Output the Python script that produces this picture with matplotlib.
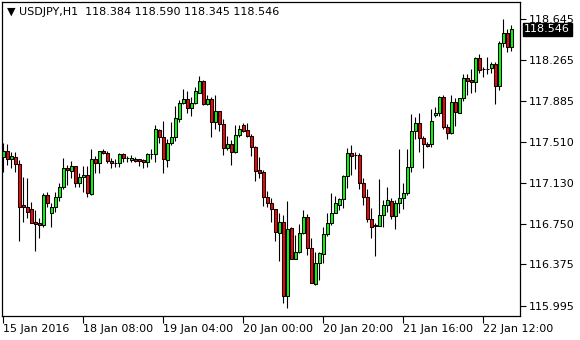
import matplotlib
matplotlib.use("Agg")
import matplotlib.pyplot as plt
import numpy as np

symbol = "USDJPY,H1"
opens = [117.365,117.426,117.347,117.371,117.301,116.922,116.909,116.887,116.767,116.758,
         116.742,117.014,116.853,116.903,116.996,117.088,117.264,117.241,117.285,117.125,
         117.180,117.202,117.023,117.347,117.310,117.426,117.402,117.334,117.315,117.315,
         117.396,117.356,117.340,117.352,117.347,117.340,117.319,117.393,117.393,117.618,
         117.556,117.340,117.495,117.550,117.716,117.864,117.901,117.818,117.864,117.962,
         118.070,117.858,117.901,117.694,117.793,117.670,117.448,117.488,117.417,117.571,
         117.661,117.618,117.562,117.458,117.248,117.232,116.996,116.946,116.885,116.668,
         116.770,116.086,116.709,116.423,116.493,116.668,116.816,116.524,116.194,116.386,
         116.472,116.654,116.761,116.853,116.924,116.977,117.192,117.408,117.387,117.387,
         117.131,116.996,116.792,116.740,116.730,116.832,116.924,116.964,116.823,116.940,
         116.986,117.033,117.278,117.611,117.679,117.541,117.485,117.485,117.756,117.777,
         117.920,117.642,117.587,117.879,117.777,117.910,118.095,118.080,118.064,118.280,
         118.178,118.179,118.188,118.228,118.024,118.419,118.511,118.384]
highs = [117.500,117.488,117.417,117.417,117.340,117.186,117.174,116.955,116.878,116.802,
         117.038,117.047,116.940,117.047,117.131,117.356,117.294,117.334,117.285,117.223,
         117.285,117.285,117.439,117.377,117.426,117.439,117.426,117.356,117.347,117.402,
         117.408,117.377,117.387,117.371,117.352,117.347,117.408,117.439,117.664,117.624,
         117.701,117.532,117.694,117.839,117.895,117.994,117.981,117.920,118.018,118.117,
         118.080,117.941,117.920,117.941,117.793,117.716,117.562,117.525,117.664,117.664,
         117.685,117.679,117.581,117.470,117.371,117.248,117.057,116.986,116.885,116.848,
         116.832,116.964,116.724,116.647,116.749,116.878,116.841,116.617,116.493,116.493,
         116.724,116.853,117.038,117.008,116.986,117.202,117.448,117.479,117.417,117.408,
         117.171,117.070,116.894,116.755,117.162,116.971,117.088,116.986,116.971,117.439,
         117.125,117.439,117.765,117.740,117.772,117.562,117.509,117.809,117.833,117.932,
         117.941,117.673,117.941,117.910,117.910,118.135,118.135,118.179,118.295,118.320,
         118.203,118.289,118.249,118.249,118.443,118.641,118.548,118.590]
lows = [117.232,117.294,117.264,117.232,116.594,116.770,116.802,116.755,116.502,116.617,
        116.718,116.903,116.718,116.863,116.964,117.070,117.109,117.171,117.088,117.088,
        117.047,117.001,117.017,117.223,117.223,117.396,117.310,117.264,117.273,117.273,
        117.325,117.325,117.325,117.322,117.285,117.264,117.278,117.347,117.325,117.500,
        117.223,117.273,117.479,117.519,117.694,117.855,117.772,117.747,117.858,117.962,
        117.849,117.849,117.556,117.624,117.611,117.387,117.433,117.294,117.408,117.556,
        117.602,117.550,117.377,117.149,117.171,116.915,116.909,116.770,116.594,116.410,
        116.016,115.970,116.423,116.423,116.484,116.656,116.462,116.201,116.185,116.231,
        116.391,116.638,116.740,116.848,116.878,116.894,117.079,117.202,117.254,117.070,
        116.924,116.770,116.617,116.453,116.730,116.724,116.863,116.792,116.700,116.853,
        116.885,117.017,117.232,117.532,117.417,117.264,117.458,117.458,117.735,117.747,
        117.624,117.532,117.581,117.655,117.777,117.888,117.941,117.962,117.972,118.147,
        118.105,118.135,118.142,117.858,117.987,118.387,118.341,118.345]
closes = [117.426,117.347,117.377,117.301,116.903,116.903,116.863,116.761,116.752,116.742,
          117.014,116.946,116.903,116.996,117.088,117.264,117.248,117.285,117.125,117.180,
          117.202,117.033,117.347,117.310,117.426,117.402,117.334,117.315,117.310,117.396,
          117.356,117.354,117.362,117.334,117.334,117.319,117.393,117.395,117.624,117.556,
          117.347,117.495,117.556,117.726,117.864,117.901,117.818,117.864,117.978,118.070,
          117.858,117.901,117.694,117.793,117.670,117.448,117.488,117.417,117.571,117.624,
          117.611,117.562,117.458,117.241,117.223,116.996,116.946,116.885,116.678,116.770,
          116.086,116.700,116.423,116.493,116.668,116.811,116.524,116.201,116.386,116.478,
          116.654,116.761,116.853,116.946,116.977,117.192,117.402,117.377,117.385,117.131,
          116.996,116.792,116.724,116.728,116.832,116.924,116.971,116.823,116.940,116.986,
          117.033,117.273,117.611,117.679,117.541,117.485,117.472,117.704,117.777,117.925,
          117.642,117.587,117.879,117.787,117.910,118.095,118.073,118.064,118.280,118.172,
          118.179,118.177,118.228,118.024,118.419,118.511,118.387,118.546]

ytick_vals = [115.995, 116.375, 116.750, 117.130, 117.510, 117.885, 118.265, 118.645]
ytick_labels = ["115.995", "116.375", "116.750", "117.130", "117.510", "117.885", "118.265", "118.645"]
xtick_bars = [0, 20, 40, 60, 80, 100, 120]
xtick_labels = ["15 Jan 2016", "18 Jan 08:00", "19 Jan 04:00", "20 Jan 00:00",
                "20 Jan 20:00", "21 Jan 16:00", "22 Jan 12:00"]

W, H = 580, 340
fig = plt.figure(figsize=(W / 100, H / 100), dpi=100)
fig.patch.set_facecolor("white")
left, right, top, bottom = 2, 520, 2, 316
ax = fig.add_axes([left / W, (H - bottom) / H, (right - left) / W, (bottom - top) / H])

o = np.array(opens); h = np.array(highs); l = np.array(lows); c = np.array(closes)
x = np.arange(len(o))
up = c >= o
ax.vlines(x, l, h, color="black", linewidth=0.8, zorder=1)
body_bottom = np.minimum(o, c)
body_h = np.maximum(np.abs(c - o), 0.0005)
colors = np.where(up, "#00ff00", "#ff0000")
ax.bar(x, body_h, bottom=body_bottom, width=0.62, color=colors,
       edgecolor="black", linewidth=0.75, zorder=2)

ax.set_xlim(-0.325, -0.325 + (right - left) / 4)
ax.set_ylim(115.898, 118.800)

for s in ax.spines.values():
    s.set_color("black")
    s.set_linewidth(0.9)

ax.yaxis.tick_right()
ax.set_yticks(ytick_vals)
ax.set_yticklabels(ytick_labels)
ax.tick_params(axis="y", direction="out", length=4, width=0.8, pad=2, labelsize=8, colors="black")

ax.set_xticks(xtick_bars)
ax.set_xticklabels(xtick_labels, ha="left")
ax.tick_params(axis="x", direction="out", length=5, width=0.8, pad=1, labelsize=8, colors="black")

ax.text(0.01, 0.985, "\u25BC " + symbol + "  " + "  ".join([]) +
        " ".join(f"{v:.3f}" for v in (opens[-1], highs[-1], lows[-1], closes[-1])),
        transform=ax.transAxes, ha="left", va="top", fontsize=8, color="black")

ax.annotate(f"{closes[-1]:.3f}", xy=(1, closes[-1]), xycoords=("axes fraction", "data"),
            xytext=(3, 0), textcoords="offset points", ha="left", va="center",
            fontsize=8, color="white", annotation_clip=False,
            bbox=dict(boxstyle="square,pad=0.15", fc="black", ec="black"))

fig.savefig("out.png", dpi=100, facecolor="white")
